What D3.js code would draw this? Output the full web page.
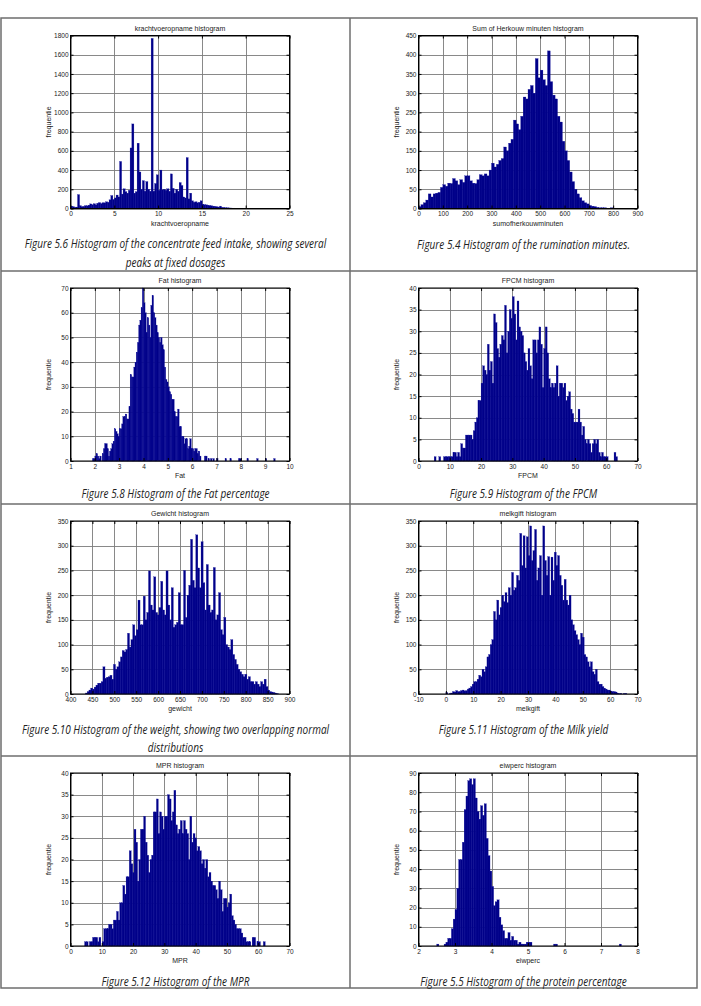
<!DOCTYPE html>
<html>
<head>
<meta charset="utf-8">
<script src="https://cdn.jsdelivr.net/npm/d3@7.9.0/dist/d3.min.js"></script>
<style>
  body { margin: 0; background: #fff; }
  .tick text { font-family: "Liberation Sans", Arial, sans-serif; font-size: 6.5px; fill: #222; }
  .lbl { font-family: "Liberation Sans", Arial, sans-serif; font-size: 7px; fill: #222; }
  .cap { font-family: "Open Sans", "DejaVu Sans", sans-serif; font-style: italic; font-size: 13px; fill: #222; }
</style>
</head>
<body>
<svg id="fig" width="701" height="1006"></svg>
<script>
// krachtvoeropname (concentrate feed intake)
const krachtStart = 0, krachtBin = 0.2;
const krachtCounts = [25,20,12,15,145,30,18,22,30,28,35,48,40,50,38,55,62,52,60,58,
  70,65,90,135,95,110,140,120,490,150,205,175,160,190,630,880,160,175,680,380,
  200,290,180,280,200,180,1770,180,260,350,190,400,195,200,190,205,180,360,210,160,
  200,180,270,240,120,110,530,100,160,80,65,70,60,65,80,45,40,38,35,30,
  28,25,22,18,15,25,12,10,8,8,6,5,4,4,3,3,2,2,2,2,
  1,1,1,1,1,0,1,0,0,1];
const krachtXTicks = [0,5,10,15,20,25];
const krachtYTicks = [0,200,400,600,800,1000,1200,1400,1600,1800];

// sum of herkouw minuten (rumination minutes)
const herkStart = 0, herkBin = 10;
const herkCounts = [5,10,15,22,38,30,38,40,42,55,62,58,66,65,78,72,62,75,68,85,
  85,72,66,65,75,88,85,90,85,100,118,108,115,125,130,160,150,170,180,230,
  220,205,240,290,285,310,320,300,390,340,360,335,320,410,330,295,285,240,225,175,
  150,125,95,70,50,38,28,20,15,12,8,6,5,3,2,2,2,1,1,2,1,1];
const herkXTicks = [0,100,200,300,400,500,600,700,800,900];
const herkYTicks = [0,50,100,150,200,250,300,350,400,450];

// Fat percentage
const fatStart = 1.9, fatBin = 0.05;
const fatCounts = [1,1,2,3,2,1,2,0,3,5,7,7,5,2,4,5,7,8,13,12,
  11,10,13,13,15,18,18,19,17,17,22,35,34,34,38,40,44,48,55,57,
  62,70,64,60,52,58,55,50,63,67,60,58,55,52,50,48,50,47,45,38,
  33,32,30,28,27,25,25,20,18,18,21,14,14,10,10,7,9,9,5,6,
  9,5,5,4,5,5,3,4,2,0,0,0,2,2,0,1,0,1,0,1,
  0,0,1,0,0,0,0,0,0,1,0,0,0,1,0,0,0,0,0,0,
  1,1,0,0,0,0,0,1,0,0,0,0,0,0,0,1,0,0,0,0,
  0,0,1,0,0,0,0,0,0,1];
const fatXTicks = [1,2,3,4,5,6,7,8,9,10];
const fatYTicks = [0,10,20,30,40,50,60,70];

// FPCM
const fpcmStart = 5, fpcmBin = 0.5;
const fpcmCounts = [1,0,0,1,0,0,1,1,1,1,1,1,2,2,1,2,1,4,3,3,
  6,6,6,6,5,7,9,10,14,14,18,22,21,20,27,21,23,18,34,32,
  26,24,27,29,28,36,25,30,35,33,38,34,28,37,31,30,29,25,23,21,
  26,22,19,28,28,25,28,31,27,17,26,31,25,19,17,18,17,18,22,15,
  18,18,17,18,14,15,16,12,11,9,9,9,12,9,6,8,5,4,5,4,
  2,4,5,4,5,2,1,2,1,1,1,0,0,0,0,2,1,0];
const fpcmXTicks = [0,10,20,30,40,50,60,70];
const fpcmYTicks = [0,5,10,15,20,25,30,35,40];

// Gewicht (weight)
const gewStart = 434, gewBin = 4;
const gewCounts = [2,5,8,12,10,14,18,22,22,25,55,32,34,35,38,30,60,50,55,65,
  75,88,85,90,123,95,110,140,118,130,190,140,140,198,150,165,249,180,170,237,
  165,160,175,228,170,160,249,180,150,215,135,140,145,205,140,140,250,155,200,220,
  313,230,215,322,255,215,308,225,170,262,180,165,170,256,150,160,205,130,120,155,
  100,95,90,110,80,70,60,50,45,40,35,40,30,35,25,25,20,25,20,15,
  25,20,30,15,8,5,4,3,2,1];
const gewXTicks = [400,450,500,550,600,650,700,750,800,850,900];
const gewYTicks = [0,50,100,150,200,250,300,350];

// melkgift (milk yield)
const melkStart = 0, melkBin = 0.6;
const melkCounts = [3,0,1,2,5,4,7,5,5,7,8,6,7,10,12,15,20,25,25,30,
  38,35,50,45,55,75,80,100,110,167,150,190,160,175,200,187,205,185,215,200,
  246,210,215,240,230,325,260,320,255,318,280,340,270,290,333,230,255,280,200,340,
  270,240,278,200,277,230,287,260,280,240,220,190,232,190,180,200,150,140,128,120,
  110,100,123,115,80,75,65,55,65,45,40,50,25,20,20,15,12,10,8,8,
  6,5,5,4,2,1,1,0,1,1];
const melkXTicks = [-10,0,10,20,30,40,50,60,70];
const melkYTicks = [0,50,100,150,200,250,300,350];

// MPR
const mprStart = 4.5, mprBin = 0.51;
const mprCounts = [1,1,0,1,1,2,2,2,1,2,0,1,4,4,4,5,5,4,6,6,
  8,6,10,10,14,12,16,16,22,19,17,27,24,15,20,27,27,30,24,21,
  17,20,21,31,31,34,26,31,30,27,30,30,35,34,29,31,36,28,26,27,
  29,26,29,27,26,20,30,24,26,25,22,23,22,19,20,18,20,16,17,15,
  14,14,13,11,15,13,8,11,11,9,10,12,7,6,5,4,4,4,3,2,
  2,1,1,1,0,2,2,0,1,1,0,0,1];
const mprXTicks = [0,10,20,30,40,50,60,70];
const mprYTicks = [0,5,10,15,20,25,30,35,40];

// eiwperc (protein percentage)
const eiwStart = 2.5, eiwBin = 0.05;
const eiwCounts = [1,0,0,0,1,2,4,4,9,14,19,30,45,45,54,71,78,86,87,84,
  87,77,70,66,73,68,74,56,47,39,31,21,23,24,15,11,8,4,4,7,
  3,5,3,3,1,2,1,1,1,2,2,2,0,0,0,0,0,0,0,0,
  0,0,0,0,1,1,0,0,0,0,0,0,0,0,0,0,0,0,0,0,
  0,0,0,0,0,0,0,0,0,0,0,0,0,0,0,0,0,0,0,0,1];
const eiwXTicks = [2,3,4,5,6,7,8];
const eiwYTicks = [0,10,20,30,40,50,60,70,80,90];

const captions = [
  { x: 175.5, y: 247.5, text: 'Figure 5.6 Histogram of the concentrate feed intake, showing several' },
  { x: 175.5, y: 266.5, text: 'peaks at fixed dosages' },
  { x: 523.5, y: 248.5, text: 'Figure 5.4 Histogram of the rumination minutes.' },
  { x: 175.5, y: 497.5, text: 'Figure 5.8  Histogram of the Fat percentage' },
  { x: 523.5, y: 497.5, text: 'Figure 5.9 Histogram of the FPCM' },
  { x: 175.5, y: 733.5, text: 'Figure 5.10 Histogram of the weight, showing two overlapping normal' },
  { x: 175.5, y: 751.5, text: 'distributions' },
  { x: 523.5, y: 733.5, text: 'Figure 5.11 Histogram of the Milk yield' },
  { x: 175.5, y: 985.5, text: 'Figure 5.12 Histogram of the MPR' },
  { x: 523.5, y: 985.5, text: 'Figure 5.5 Histogram of the protein percentage' }
];

const L = [70.5, 289.5], R = [418.5, 637.5];
const panels = [
  { title: 'krachtvoeropname histogram', xlab: 'krachtvoeropname', xs: L, top: 35.5, bottom: 208.5,
    start: krachtStart, bin: krachtBin, counts: krachtCounts, xt: krachtXTicks, yt: krachtYTicks },
  { title: 'Sum of Herkouw minuten histogram', xlab: 'sumofherkouwminuten', xs: R, top: 35.5, bottom: 208.5,
    start: herkStart, bin: herkBin, counts: herkCounts, xt: herkXTicks, yt: herkYTicks },
  { title: 'Fat histogram', xlab: 'Fat', xs: L, top: 288, bottom: 461,
    start: fatStart, bin: fatBin, counts: fatCounts, xt: fatXTicks, yt: fatYTicks },
  { title: 'FPCM histogram', xlab: 'FPCM', xs: R, top: 288, bottom: 461,
    start: fpcmStart, bin: fpcmBin, counts: fpcmCounts, xt: fpcmXTicks, yt: fpcmYTicks },
  { title: 'Gewicht histogram', xlab: 'gewicht', xs: L, top: 521, bottom: 694,
    start: gewStart, bin: gewBin, counts: gewCounts, xt: gewXTicks, yt: gewYTicks },
  { title: 'melkgift histogram', xlab: 'melkgift', xs: R, top: 521, bottom: 694,
    start: melkStart, bin: melkBin, counts: melkCounts, xt: melkXTicks, yt: melkYTicks },
  { title: 'MPR histogram', xlab: 'MPR', xs: L, top: 773, bottom: 946,
    start: mprStart, bin: mprBin, counts: mprCounts, xt: mprXTicks, yt: mprYTicks },
  { title: 'eiwperc histogram', xlab: 'eiwperc', xs: R, top: 773, bottom: 946,
    start: eiwStart, bin: eiwBin, counts: eiwCounts, xt: eiwXTicks, yt: eiwYTicks }
];

const svg = d3.select('#fig');
svg.append('rect').attr('width', 701).attr('height', 1006).attr('fill', '#fff');

// table borders
const border = svg.append('g').attr('stroke', '#6e6e6e').attr('stroke-width', 1.5).attr('fill', 'none');
border.append('rect').attr('x', 1).attr('y', 18).attr('width', 696).attr('height', 970);
[271, 504, 756].forEach(y => border.append('line').attr('x1', 1).attr('x2', 697).attr('y1', y).attr('y2', y));
border.append('line').attr('x1', 350).attr('x2', 350).attr('y1', 18).attr('y2', 988);

panels.forEach(drawHist);

// captions use a condensed look: squeeze the italic text horizontally
svg.selectAll('text.cap').data(captions).join('text')
  .attr('class', 'cap')
  .attr('x', d => d.x).attr('y', d => d.y)
  .attr('text-anchor', 'middle')
  .text(d => d.text)
  .each(function () {
    const w = this.getComputedTextLength();
    d3.select(this).attr('textLength', w * 0.77).attr('lengthAdjust', 'spacingAndGlyphs');
  });

function drawHist(p) {
  const xDom = d3.extent(p.xt), yDom = d3.extent(p.yt);
  const x = d3.scaleLinear().domain(xDom).range(p.xs);
  const y = d3.scaleLinear().domain(yDom).range([p.bottom, p.top]);
  const g = svg.append('g');

  // grid
  const grid = g.append('g').attr('stroke', '#7c7c7c').attr('stroke-width', 0.9);
  grid.selectAll('line.v').data(p.xt).join('line').attr('class', 'v')
    .attr('x1', d => Math.round(x(d)) + 0.5).attr('x2', d => Math.round(x(d)) + 0.5)
    .attr('y1', p.top).attr('y2', p.bottom);
  grid.selectAll('line.h').data(p.yt).join('line').attr('class', 'h')
    .attr('y1', d => Math.round(y(d)) + 0.5).attr('y2', d => Math.round(y(d)) + 0.5)
    .attr('x1', p.xs[0]).attr('x2', p.xs[1]);

  // bars
  const bins = p.counts.map((c, i) => ({ x0: p.start + i * p.bin, x1: p.start + (i + 1) * p.bin, c }));
  g.append('g').selectAll('rect').data(bins.filter(d => d.c > 0)).join('rect')
    .attr('x', d => x(d.x0))
    .attr('width', d => Math.max(0.8, x(d.x1) - x(d.x0) + 0.35))
    .attr('y', d => y(d.c))
    .attr('height', d => y(0) - y(d.c))
    .attr('fill', '#000088')
    .attr('stroke', '#1414a0')
    .attr('stroke-width', 0.25);

  // axes with inward ticks
  const fmt = d => String(d);
  const ax = g.append('g').attr('transform', `translate(0,${p.bottom})`)
    .call(d3.axisBottom(x).tickValues(p.xt).tickFormat(fmt).tickSizeInner(-3).tickSizeOuter(0).tickPadding(3));
  const ay = g.append('g').attr('transform', `translate(${p.xs[0]},0)`)
    .call(d3.axisLeft(y).tickValues(p.yt).tickFormat(fmt).tickSizeInner(-3).tickSizeOuter(0).tickPadding(2));
  const at = g.append('g').attr('transform', `translate(0,${p.top})`)
    .call(d3.axisTop(x).tickValues(p.xt).tickFormat('').tickSizeInner(-3).tickSizeOuter(0));
  const ar = g.append('g').attr('transform', `translate(${p.xs[1]},0)`)
    .call(d3.axisRight(y).tickValues(p.yt).tickFormat('').tickSizeInner(-3).tickSizeOuter(0));
  [ax, ay, at, ar].forEach(a => {
    a.select('.domain').remove();
    a.selectAll('line').attr('stroke', '#000');
    a.attr('font-family', null).attr('font-size', null);
  });

  // frame
  g.append('rect').attr('x', p.xs[0]).attr('y', p.top)
    .attr('width', p.xs[1] - p.xs[0]).attr('height', p.bottom - p.top)
    .attr('fill', 'none').attr('stroke', '#000').attr('stroke-width', 1);

  const cx = (p.xs[0] + p.xs[1]) / 2;
  g.append('text').attr('class', 'lbl').attr('x', cx).attr('y', p.top - 5)
    .attr('text-anchor', 'middle').text(p.title);
  g.append('text').attr('class', 'lbl').attr('x', cx).attr('y', p.bottom + 17)
    .attr('text-anchor', 'middle').text(p.xlab);
  g.append('text').attr('class', 'lbl')
    .attr('transform', `translate(${p.xs[0] - 20},${(p.top + p.bottom) / 2}) rotate(-90)`)
    .attr('text-anchor', 'middle').text('frequentie');
}
</script>
</body>
</html>
